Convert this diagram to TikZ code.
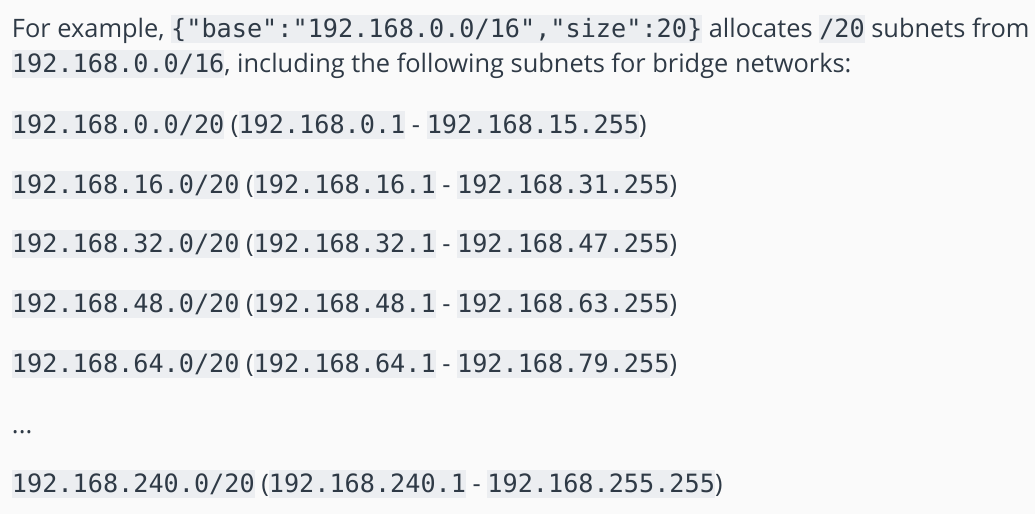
\documentclass[tikz,border=0pt]{standalone}
\usepackage{fontspec}
\setmainfont{Open Sans}
\newfontfamily\codefont{DejaVu Sans Mono}
\definecolor{pagebg}{HTML}{FAFAFA}
\definecolor{codebg}{HTML}{ECEEF1}
\definecolor{ink}{HTML}{2F3A46}
\newlength\tmpw
\newcommand\cd[1]{{\setlength\fboxsep{0pt}\colorbox{codebg}{\rule[-5.5pt]{0pt}{28pt}\codefont\fontsize{25.2pt}{25.2pt}\selectfont #1}}}
\tikzset{
  txt/.style={anchor=base west, inner sep=0pt, outer sep=0pt, text=ink, font=\bodyfont}
}
\begin{document}
\settowidth\tmpw{\fontsize{20pt}{20pt}\selectfont, including the following subnets for bridge networks:}
\pgfmathsetmacro\bs{20*627/\tmpw}
\gdef\bodyfont{\fontsize{\bs pt}{\bs pt}\selectfont}
\begin{tikzpicture}[x=1pt,y=1pt]
\fill[pagebg] (0,0) rectangle (1035,-514);
\useasboundingbox (0,0) rectangle (1035,-514);
\node[txt] (l1) at (12,-37.5) {For example, \cd{\{"base":"192.168.0.0/16","size":20\}} allocates \cd{/20} subnets from};
\node[txt] (l2) at (12,-72) {\cd{192.168.0.0/16}, including the following subnets for bridge networks:};
\node[txt] (r1) at (12,-133) {\cd{192.168.0.0/20} (\cd{192.168.0.1} - \cd{192.168.15.255})};
\node[txt] (r2) at (12,-193) {\cd{192.168.16.0/20} (\cd{192.168.16.1} - \cd{192.168.31.255})};
\node[txt] (r3) at (12,-252.5) {\cd{192.168.32.0/20} (\cd{192.168.32.1} - \cd{192.168.47.255})};
\node[txt] (r4) at (12,-312) {\cd{192.168.48.0/20} (\cd{192.168.48.1} - \cd{192.168.63.255})};
\node[txt] (r5) at (12,-372) {\cd{192.168.64.0/20} (\cd{192.168.64.1} - \cd{192.168.79.255})};
\node[txt] (dots) at (12,-433) {...};
\node[txt] (r6) at (12,-492) {\cd{192.168.240.0/20} (\cd{192.168.240.1} - \cd{192.168.255.255})};
\end{tikzpicture}
\end{document}
